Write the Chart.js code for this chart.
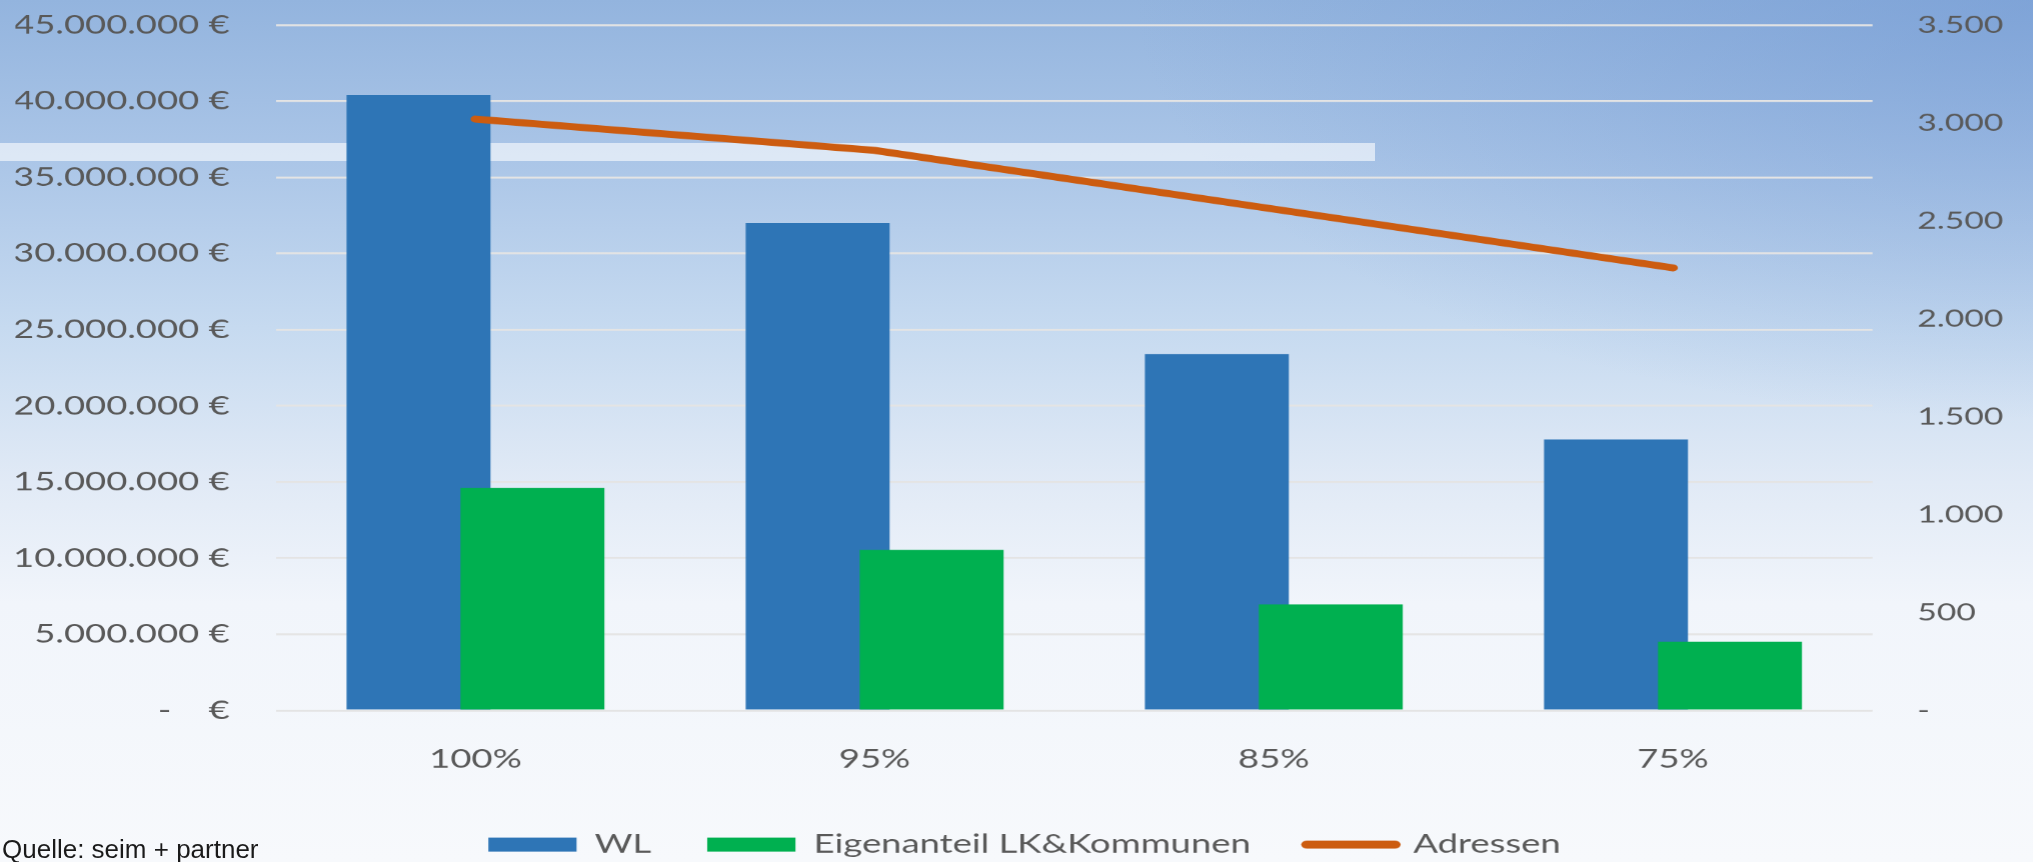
<!DOCTYPE html>
<html>
<head>
<meta charset="utf-8">
<script src="https://cdn.jsdelivr.net/npm/chart.js@4"></script>
<style>
  html, body { margin: 0; padding: 0; width: 2033px; height: 862px; overflow: hidden; }
  body {
    position: relative;
    background:
      radial-gradient(ellipse 900px 420px at 100% 0%, rgba(110,150,210,0.55), rgba(110,150,210,0) 100%),
      linear-gradient(180deg, #93b4de 0%, #aac5e7 18%, #c6daf0 38%, #e1eaf6 56%, #f1f5fb 70%, #f7f9fc 100%);
  }
  #band { position: absolute; left: 0; top: 143px; width: 1375px; height: 18px; background: rgba(255,255,255,0.6); }
  #wrap { position: absolute; left: 0; top: 0; width: 1452px; height: 862px; transform: scaleX(1.4); transform-origin: 0 0; }
  #source { position: absolute; left: 2px; top: 834px; font-family: 'Liberation Sans', Arial, sans-serif; font-size: 26px; color: #1a1a1a; }
</style>
</head>
<body>
<div id="band"></div>
<div id="wrap"><canvas id="chart"></canvas></div>
<div id="source">Quelle: seim + partner</div>
<script>
const categories = ['100%', '95%', '85%', '75%'];
const wl = [40400000, 32000000, 23400000, 17800000];
const eigenanteil = [14600000, 10550000, 6970000, 4520000];
const adressen = [3020, 2860, 2560, 2260];

const grey = '#595959';
const font = { family: 'Lato', size: 26 };

// thousands separator like the German Excel format
const fmt = v => String(v).replace(/\B(?=(\d{3})+(?!\d))/g, '.');

// bars and line drawn in dataset order, so the green bar sits over the blue one
const drawInOrder = {
  id: 'drawInOrder',
  beforeDatasetsDraw(chart) {
    chart.data.datasets.forEach((ds, i) => {
      const meta = chart.getDatasetMeta(i);
      if (!meta.hidden) meta.controller.draw();
    });
    return false;
  }
};

// fixed axis width, and no extra room above the top tick
const fitY = width => scale => {
  scale.width = width;
  scale.paddingTop = 0;
  scale.paddingBottom = 0;
};

const ctx = document.getElementById('chart').getContext('2d');
new Chart(ctx, {
  type: 'bar',
  data: {
    labels: categories,
    datasets: [
      {
        label: 'WL',
        data: wl,
        backgroundColor: '#2E75B6',
        yAxisID: 'y',
        categoryPercentage: 0.571,
        barPercentage: 1.263
      },
      {
        label: 'Eigenanteil LK&Kommunen',
        data: eigenanteil,
        backgroundColor: '#00B050',
        yAxisID: 'y',
        categoryPercentage: 0.571,
        barPercentage: 1.263
      },
      {
        type: 'line',
        label: 'Adressen',
        data: adressen,
        borderColor: '#CC5C10',
        backgroundColor: '#CC5C10',
        borderWidth: 7,
        borderCapStyle: 'round',
        borderJoinStyle: 'round',
        pointRadius: 0,
        tension: 0,
        yAxisID: 'y1'
      }
    ]
  },
  options: {
    responsive: true,
    maintainAspectRatio: false,
    devicePixelRatio: 1.4,
    animation: false,
    layout: { padding: { top: 25, left: 11, right: 0, bottom: -5 } },
    scales: {
      x: {
        grid: { display: false, drawTicks: false },
        border: { display: false },
        ticks: { color: grey, font: font, padding: 33 },
        afterFit: scale => { scale.height = 81; }
      },
      y: {
        position: 'left',
        min: 0,
        max: 45000000,
        grid: { color: '#e4e4e4', lineWidth: 2, drawTicks: false },
        border: { display: false },
        ticks: {
          stepSize: 5000000,
          color: grey,
          font: font,
          padding: 33,
          callback: v => v === 0 ? '-    €' : fmt(v) + ' €'
        },
        afterFit: fitY(186)
      },
      y1: {
        position: 'right',
        min: 0,
        max: 3500,
        grid: { display: false, drawTicks: false },
        border: { display: false },
        ticks: {
          stepSize: 500,
          color: grey,
          font: { family: 'Lato', size: 24 },
          padding: 32,
          callback: v => v === 0 ? '-' : fmt(v)
        },
        afterFit: fitY(115)
      }
    },
    plugins: {
      legend: {
        display: true,
        position: 'bottom',
        labels: {
          color: grey,
          font: font,
          padding: 40,
          usePointStyle: true,
          pointStyleWidth: 63,
          boxHeight: 14,
          generateLabels(chart) {
            const items = Chart.defaults.plugins.legend.labels.generateLabels(chart);
            items.forEach(item => {
              const ds = chart.data.datasets[item.datasetIndex];
              if (ds.type === 'line') {
                item.pointStyle = 'line';
                item.lineWidth = 8;
                item.lineCap = 'round';
              } else {
                item.pointStyle = 'rect';
                item.lineWidth = 0;
              }
            });
            return items;
          }
        }
      },
      tooltip: { enabled: false }
    }
  },
  plugins: [drawInOrder]
});
</script>
</body>
</html>
